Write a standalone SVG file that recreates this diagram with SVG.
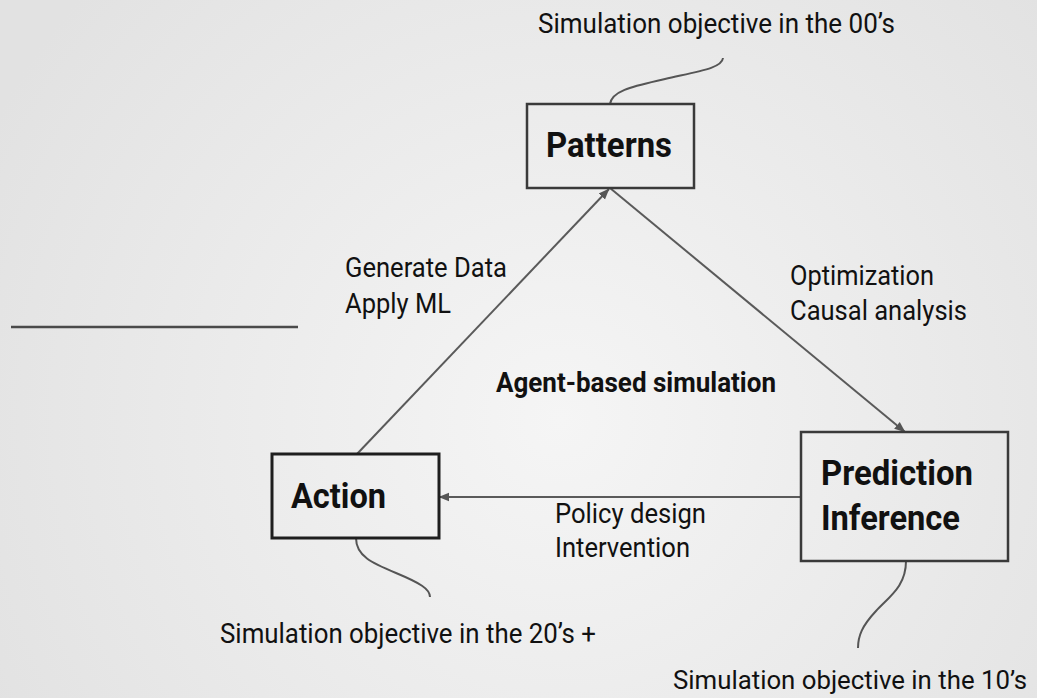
<svg xmlns="http://www.w3.org/2000/svg" width="1037" height="698" viewBox="0 0 1037 698">
<defs>
<radialGradient id="bg" cx="560" cy="420" r="640" gradientUnits="userSpaceOnUse">
<stop offset="0" stop-color="#f5f5f5"/>
<stop offset="1" stop-color="#e2e2e2"/>
</radialGradient>
<marker id="arr" viewBox="0 0 10 10" refX="9.5" refY="5" markerWidth="11" markerHeight="11" markerUnits="userSpaceOnUse" orient="auto">
<path d="M0,1 L10,5 L0,9 Z" fill="#555"/>
</marker>
<style>
.box{fill:none;stroke:#3a3a3a;stroke-width:2.5}
.t{font-family:Roboto,"Noto Sans",sans-serif;fill:#111}
.lbl{font-size:27px}
.big{font-size:35px;font-weight:bold}
.mid{font-size:27px;font-weight:bold}
.con{fill:none;stroke:#5a5a5a;stroke-width:2}
.crv{fill:none;stroke:#555;stroke-width:2}
</style>
</defs>
<rect width="1037" height="698" fill="url(#bg)"/>
<line x1="11" y1="327" x2="298" y2="327" stroke="#4a4a4a" stroke-width="2.5"/>
<g id="connectors">
<line class="con" x1="357" y1="454" x2="609" y2="189" marker-end="url(#arr)"/>
<line class="con" x1="610" y1="188" x2="905" y2="432" marker-end="url(#arr)"/>
<line class="con" x1="801" y1="497" x2="439" y2="497" marker-end="url(#arr)"/>
<path class="crv" d="M610,104 C612,90 635,86 665,79 C700,71 722,68 723,58"/>
<path class="crv" d="M356,538 C356,556 372,563 396,573 C420,583 430,589 430,597"/>
<path class="crv" d="M906,561 C906,586 890,596 876,611 C862,626 858,636 858,648"/>
</g>
<g id="patterns">
<rect class="box" x="527" y="104" width="167" height="84"/>
<text class="t big" x="546" y="157" textLength="126" lengthAdjust="spacingAndGlyphs">Patterns</text>
</g>
<g id="action">
<rect class="box" x="272" y="454" width="167" height="84" style="stroke:#1e1e1e;stroke-width:3"/>
<text class="t big" x="291" y="508" textLength="95" lengthAdjust="spacingAndGlyphs">Action</text>
</g>
<g id="prediction">
<rect class="box" x="801" y="432" width="207" height="129"/>
<text class="t big" x="821" y="485" textLength="152" lengthAdjust="spacingAndGlyphs">Prediction</text>
<text class="t big" x="821" y="530" textLength="139" lengthAdjust="spacingAndGlyphs">Inference</text>
</g>
<g id="labels">
<text class="t lbl" x="538" y="33" textLength="357" lengthAdjust="spacingAndGlyphs">Simulation objective in the 00’s</text>
<text class="t lbl" x="345" y="277" textLength="162" lengthAdjust="spacingAndGlyphs">Generate Data</text>
<text class="t lbl" x="345" y="313" textLength="106" lengthAdjust="spacingAndGlyphs">Apply ML</text>
<text class="t lbl" x="790" y="285" textLength="144" lengthAdjust="spacingAndGlyphs">Optimization</text>
<text class="t lbl" x="790" y="320" textLength="177" lengthAdjust="spacingAndGlyphs">Causal analysis</text>
<text class="t mid" x="496" y="392" textLength="280" lengthAdjust="spacingAndGlyphs">Agent-based simulation</text>
<text class="t lbl" x="555" y="523" textLength="151" lengthAdjust="spacingAndGlyphs">Policy design</text>
<text class="t lbl" x="555" y="557" textLength="135" lengthAdjust="spacingAndGlyphs">Intervention</text>
<text class="t lbl" x="220" y="643" textLength="376" lengthAdjust="spacingAndGlyphs">Simulation objective in the 20’s +</text>
<text class="t" x="673" y="689" style="font-size:25.5px" textLength="354" lengthAdjust="spacingAndGlyphs">Simulation objective in the 10’s</text>
</g>
</svg>
